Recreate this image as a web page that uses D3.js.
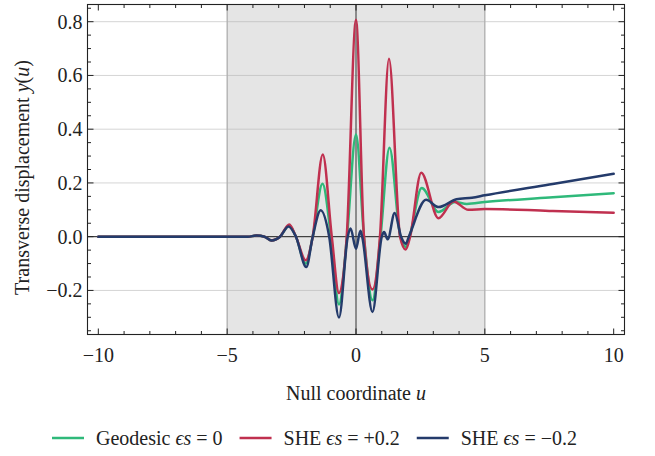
<!DOCTYPE html>
<html>
<head>
<meta charset="utf-8">
<script src="https://cdn.jsdelivr.net/npm/d3@7"></script>
<style>
  html, body { margin: 0; padding: 0; background: #fff; }
  svg { display: block; }
  text { font-family: "Liberation Serif", "DejaVu Serif", serif; fill: #222; }
</style>
</head>
<body>
<svg id="chart" width="655" height="456"></svg>
<script>
// ---------------- data ----------------
const geodesicU = [-10, -4.5, -4.2, -3.86, -3.55, -3.28, -2.95, -2.59, -2.33, -1.95, -1.68, -1.3, -0.97, -0.66, -0.35, 0.0, 0.31, 0.64, 0.95, 1.3, 1.72, 1.93, 2.08, 2.55, 3.2, 3.85, 4.3, 5, 7.5, 10];
const geodesicY = [0, 0, 0, 0.004, 0, -0.014, 0, 0.042, 0, -0.10, 0, 0.197, 0, -0.252, 0, 0.38, 0, -0.237, 0, 0.331, 0, -0.038, 0, 0.181, 0.092, 0.129, 0.122, 0.129, 0.1455, 0.162];

const plusU = [-10, -4.5, -4.2, -3.86, -3.55, -3.28, -2.95, -2.59, -2.33, -1.95, -1.68, -1.29, -0.94, -0.66, -0.36, 0, 0.31, 0.64, 0.93, 1.28, 1.71, 1.93, 2.1, 2.53, 3.2, 3.78, 4.36, 5, 7.5, 10];
const plusY = [0, 0, 0, 0.004, 0, -0.014, 0, 0.045, 0, -0.088, 0, 0.306, 0, -0.21, 0, 0.807, 0, -0.197, 0, 0.662, 0, -0.048, 0, 0.238, 0.069, 0.131, 0.10, 0.103, 0.096, 0.089];

const minusU = [-10, -4.5, -4.2, -3.86, -3.55, -3.28, -2.95, -2.62, -2.33, -1.93, -1.68, -1.37, -1.04, -0.66, -0.32, -0.21, 0, 0.17, 0.24, 0.64, 1.0, 1.09, 1.23, 1.5, 1.75, 1.93, 2.05, 2.72, 3.2, 3.9, 4.5, 5, 7.5, 10];
const minusY = [0, 0, 0, 0.004, 0, -0.014, 0, 0.038, 0, -0.113, 0, 0.098, 0, -0.301, 0, 0.03, -0.045, 0.022, 0, -0.28, 0, 0.017, -0.01, 0.088, 0, -0.026, 0, 0.137, 0.110, 0.139, 0.145, 0.154, 0.194, 0.234];

const xTicks = [-10, -5, 0, 5, 10];
const yTicks = [-0.2, 0.0, 0.2, 0.4, 0.6, 0.8];
const shadeRange = [-5, 5];

const series = [
  { name: "Geodesic", eps: " = 0", u: geodesicU, y: geodesicY, color: "#2fb97a" },
  { name: "SHE", eps: " = +0.2", u: plusU, y: plusY, color: "#c0304f" },
  { name: "SHE", eps: " = \u22120.2", u: minusU, y: minusY, color: "#243b6b" }
];

// ---------------- layout ----------------
const FS = 20;
const svg = d3.select("#chart");
const L = 87.5, R = 624.5, T = 4.5, B = 334.5;
const x = d3.scaleLinear().domain([-10.42, 10.42]).range([L, R]);
const y = d3.scaleLinear().domain([-0.364, 0.864]).range([B, T]);
const fmtMinus = s => s.replace("-", "\u2212");

svg.append("defs").append("clipPath").attr("id", "clip")
  .append("rect").attr("x", L).attr("y", T).attr("width", R - L).attr("height", B - T);

// shaded span
svg.append("rect")
  .attr("x", x(shadeRange[0])).attr("y", T)
  .attr("width", x(shadeRange[1]) - x(shadeRange[0])).attr("height", B - T)
  .attr("fill", "#e5e5e5");
shadeRange.forEach(v => {
  svg.append("line").attr("x1", x(v)).attr("x2", x(v)).attr("y1", T).attr("y2", B)
    .attr("stroke", "#a8a8a8").attr("stroke-width", 1.2);
});

// grid
svg.append("g").selectAll("line").data(yTicks).join("line")
  .attr("x1", L).attr("x2", R)
  .attr("y1", d => y(d)).attr("y2", d => y(d))
  .attr("stroke", "#b0b0b0").attr("stroke-opacity", 0.55).attr("stroke-width", 1);

// zero lines
svg.append("line").attr("x1", L).attr("x2", R).attr("y1", y(0)).attr("y2", y(0))
  .attr("stroke", "#222").attr("stroke-width", 1);
svg.append("line").attr("x1", x(0)).attr("x2", x(0)).attr("y1", T).attr("y2", B)
  .attr("stroke", "#333").attr("stroke-width", 1);

// curves
const line = d3.line().x(d => x(d[0])).y(d => y(d[1])).curve(d3.curveMonotoneX);
const gLines = svg.append("g").attr("clip-path", "url(#clip)");
series.forEach(s => {
  gLines.append("path")
    .datum(s.u.map((u, i) => [u, s.y[i]]))
    .attr("d", line)
    .attr("fill", "none")
    .attr("stroke", s.color)
    .attr("stroke-width", 2.5)
    .attr("stroke-linejoin", "round")
    .attr("stroke-linecap", "round");
});

// frame
svg.append("rect").attr("x", L).attr("y", T).attr("width", R - L).attr("height", B - T)
  .attr("fill", "none").attr("stroke", "#222").attr("stroke-width", 1.1);

// ticks (inward, all sides)
const xMinor = d3.range(-10, 10.001, 1).filter(v => !xTicks.includes(v));
const yMinor = d3.range(-0.35, 0.851, 0.05).map(v => +v.toFixed(2)).filter(v => !yTicks.some(t => Math.abs(t - v) < 1e-6));
const tk = svg.append("g").attr("stroke", "#222").attr("stroke-width", 1);
function xt(vals, len) {
  vals.forEach(v => {
    tk.append("line").attr("x1", x(v)).attr("x2", x(v)).attr("y1", B).attr("y2", B - len);
    tk.append("line").attr("x1", x(v)).attr("x2", x(v)).attr("y1", T).attr("y2", T + len);
  });
}
function yt(vals, len) {
  vals.forEach(v => {
    tk.append("line").attr("y1", y(v)).attr("y2", y(v)).attr("x1", L).attr("x2", L + len);
    tk.append("line").attr("y1", y(v)).attr("y2", y(v)).attr("x1", R).attr("x2", R - len);
  });
}
xt(xTicks, 6); xt(xMinor, 3.5);
yt(yTicks, 6); yt(yMinor, 3.5);

// tick labels
svg.append("g").selectAll("text").data(xTicks).join("text")
  .attr("x", d => x(d)).attr("y", B + 27.5)
  .attr("text-anchor", "middle").attr("font-size", FS)
  .text(d => fmtMinus(d3.format("d")(d)));
svg.append("g").selectAll("text").data(yTicks).join("text")
  .attr("x", L - 5).attr("y", d => y(d) + 7)
  .attr("text-anchor", "end").attr("font-size", FS)
  .text(d => fmtMinus(d3.format(".1f")(d)));

// axis labels
const xl = svg.append("text").attr("x", x(0)).attr("y", 400)
  .attr("text-anchor", "middle").attr("font-size", FS);
xl.append("tspan").text("Null coordinate ");
xl.append("tspan").attr("font-style", "italic").text("u");

const yl = svg.append("text")
  .attr("transform", `translate(29,${(T + B) / 2 + 8}) rotate(-90)`)
  .attr("text-anchor", "middle").attr("font-size", FS);
yl.append("tspan").text("Transverse displacement ");
yl.append("tspan").attr("font-style", "italic").text("y");
yl.append("tspan").text("(");
yl.append("tspan").attr("font-style", "italic").text("u");
yl.append("tspan").text(")");

// legend
let lx = 52;
const ly = 438;
series.forEach(s => {
  svg.append("line").attr("x1", lx).attr("x2", lx + 32).attr("y1", ly).attr("y2", ly)
    .attr("stroke", s.color).attr("stroke-width", 2.5);
  const t = svg.append("text").attr("x", lx + 44).attr("y", ly + 6.5).attr("font-size", FS);
  t.append("tspan").text(s.name + " ");
  t.append("tspan").attr("font-style", "italic").text("\u03f5s");
  t.append("tspan").text(s.eps);
  const w = t.node().getComputedTextLength();
  lx = lx + 44 + w + 17;
});
</script>
</body>
</html>
